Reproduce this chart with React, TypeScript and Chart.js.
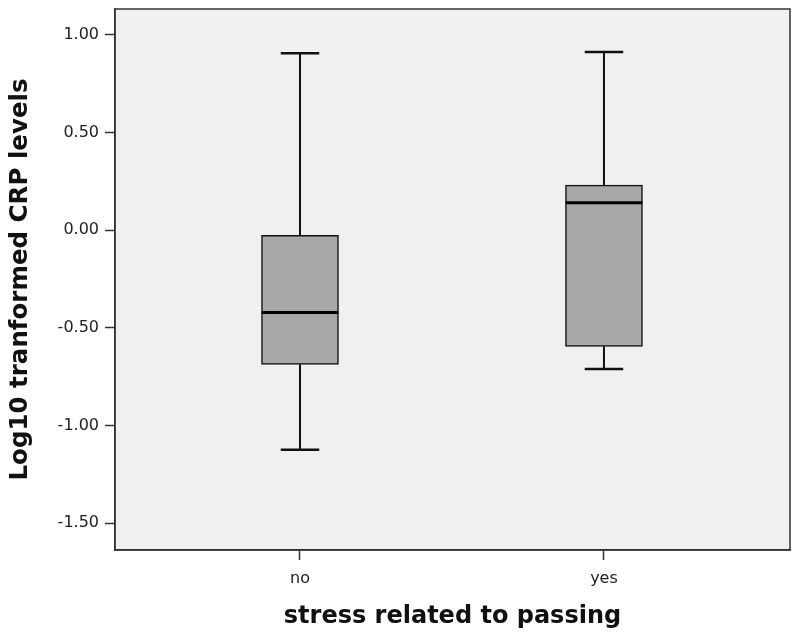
import React, { useEffect, useRef } from "react";
import { Chart, registerables } from "chart.js";

Chart.register(...registerables);

const CATEGORIES = ["no", "yes"];
const WHISKER_MIN = [-1.125, -0.711];
const Q1 = [-0.687, -0.595];
const MEDIAN = [-0.422, 0.14];
const Q3 = [-0.026, 0.231];
const WHISKER_MAX = [0.906, 0.913];
const Y_TICKS = [-1.5, -1.0, -0.5, 0.0, 0.5, 1.0];
const Y_MIN = -1.638;
const Y_MAX = 1.133;
const X_MIN = -0.6086;
const X_MAX = 1.612;

const Y_TITLE = "Log10 tranformed CRP levels";
const X_TITLE = "stress related to passing";

const BOX_WIDTH = 77;

const boxPlugin = {
  id: "boxExtras",
  beforeDraw(chart: any) {
    const { ctx, chartArea } = chart;
    ctx.save();
    ctx.fillStyle = "#f0f0f0";
    ctx.fillRect(chartArea.left, chartArea.top, chartArea.right - chartArea.left, chartArea.bottom - chartArea.top);
    ctx.restore();
  },
  afterDatasetsDraw(chart: any) {
    const { ctx } = chart;
    const xs = chart.scales.x;
    const ys = chart.scales.y;
    ctx.save();
    ctx.lineCap = "butt";
    CATEGORIES.forEach((_, i) => {
      const cx = xs.getPixelForValue(i);
      const yMin = ys.getPixelForValue(WHISKER_MIN[i]);
      const yMax = ys.getPixelForValue(WHISKER_MAX[i]);
      const yQ1 = ys.getPixelForValue(Q1[i]);
      const yQ3 = ys.getPixelForValue(Q3[i]);
      const yMed = ys.getPixelForValue(MEDIAN[i]);
      ctx.strokeStyle = "#111";
      ctx.lineWidth = 2;
      ctx.beginPath();
      ctx.moveTo(cx, yQ3);
      ctx.lineTo(cx, yMax);
      ctx.moveTo(cx, yQ1);
      ctx.lineTo(cx, yMin);
      ctx.stroke();
      ctx.lineWidth = 2.5;
      const half = BOX_WIDTH / 4;
      ctx.beginPath();
      ctx.moveTo(cx - half, yMax);
      ctx.lineTo(cx + half, yMax);
      ctx.moveTo(cx - half, yMin);
      ctx.lineTo(cx + half, yMin);
      ctx.stroke();
      ctx.lineWidth = 3;
      ctx.strokeStyle = "#000";
      ctx.beginPath();
      ctx.moveTo(cx - BOX_WIDTH / 2, yMed);
      ctx.lineTo(cx + BOX_WIDTH / 2, yMed);
      ctx.stroke();
    });
    ctx.restore();
  },
  afterDraw(chart: any) {
    const { ctx, chartArea } = chart;
    ctx.save();
    ctx.strokeStyle = "#333";
    ctx.lineWidth = 1.5;
    ctx.strokeRect(chartArea.left, chartArea.top, chartArea.right - chartArea.left, chartArea.bottom - chartArea.top);
    ctx.restore();
  },
};

export default function App() {
  const canvasRef = useRef<HTMLCanvasElement | null>(null);

  useEffect(() => {
    if (!canvasRef.current) return;
    const chart = new Chart(canvasRef.current, {
      type: "bar",
      data: {
        datasets: [
          {
            data: CATEGORIES.map((_, i) => ({ x: i, y: [Q1[i], Q3[i]] })) as any,
            backgroundColor: "#a8a8a8",
            borderColor: "#111",
            borderWidth: 1.5,
            borderSkipped: false,
            barThickness: BOX_WIDTH,
          },
        ],
      },
      options: {
        animation: false,
        responsive: true,
        maintainAspectRatio: false,
        layout: { padding: { top: 9, right: 10, left: 0, bottom: 0 } },
        plugins: { legend: { display: false }, tooltip: { enabled: false } },
        scales: {
          x: {
            type: "linear",
            min: X_MIN,
            max: X_MAX,
            offset: false,
            afterBuildTicks: (scale: any) => {
              scale.ticks = CATEGORIES.map((_, i) => ({ value: i }));
            },
            afterFit: (scale: any) => {
              scale.height = 88;
              scale.paddingLeft = 0;
              scale.paddingRight = 0;
            },
            ticks: {
              callback: (v: any) => CATEGORIES[Math.round(Number(v))] ?? "",
              font: { family: "DejaVu Sans", size: 16 },
              color: "#222",
              padding: 9,
              maxRotation: 0,
            },
            grid: {
              offset: false,
              drawOnChartArea: false,
              drawTicks: true,
              tickLength: 10,
              tickColor: "#333",
              tickWidth: 1.5,
            },
            border: { display: true, color: "#333", width: 1.5 },
            title: {
              display: true,
              text: X_TITLE,
              font: { family: "DejaVu Sans", size: 24, weight: "bold" },
              color: "#111",
              padding: { top: 0, bottom: 7 },
            },
          },
          y: {
            type: "linear",
            min: Y_MIN,
            max: Y_MAX,
            afterBuildTicks: (scale: any) => {
              scale.ticks = Y_TICKS.map((v) => ({ value: v }));
            },
            afterFit: (scale: any) => {
              scale.width = 115;
              scale.paddingTop = 0;
              scale.paddingBottom = 0;
            },
            ticks: {
              callback: (v: any) => Number(v).toFixed(2),
              font: { family: "DejaVu Sans", size: 16 },
              color: "#222",
              padding: 6,
            },
            grid: {
              drawOnChartArea: false,
              drawTicks: true,
              tickLength: 10,
              tickColor: "#333",
              tickWidth: 1.5,
            },
            border: { display: true, color: "#333", width: 1.5 },
            title: {
              display: true,
              text: Y_TITLE,
              font: { family: "DejaVu Sans", size: 24.5, weight: "bold" },
              color: "#111",
              padding: { top: 6, bottom: 0 },
            },
          },
        },
      },
      plugins: [boxPlugin],
    });
    return () => chart.destroy();
  }, []);

  return (
    <div style={{ position: "fixed", left: 0, top: 0, width: 800, height: 638, background: "#fff" }}>
      <canvas ref={canvasRef} />
    </div>
  );
}
